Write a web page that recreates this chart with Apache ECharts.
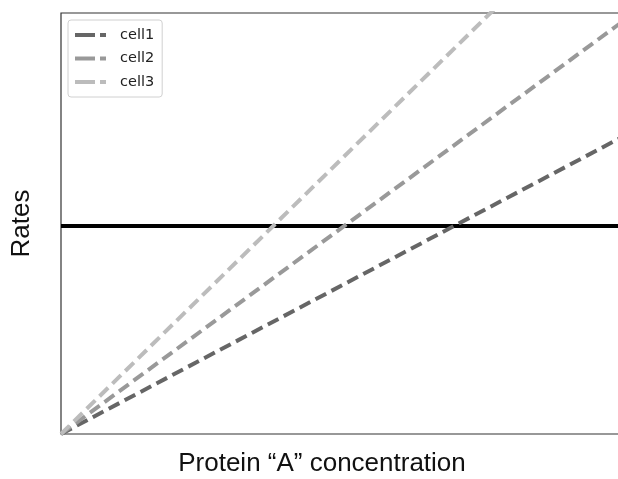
<!DOCTYPE html>
<html><head><meta charset="utf-8">
<script src="https://cdn.jsdelivr.net/npm/echarts@6/dist/echarts.min.js"></script>
<style>html,body{margin:0;padding:0;background:#fff;overflow:hidden}#c{width:618px;height:479px}</style>
</head><body><div id="c"></div>
<script>
const xs = [0, 1];
const cell1 = [0, 0.704];
const cell2 = [0, 0.977];
const cell3 = [0, 1.304];
const threshold = [0.494, 0.494];
const names = ['cell1', 'cell2', 'cell3'];
const colors = ['#666666', '#999999', '#bcbcbc'];

const pts = a => xs.map((x, i) => [x, a[i]]);
const chart = echarts.init(document.getElementById('c'), null, {renderer: 'canvas'});
const dashIcon = 'path://M0,0H20V4H0Z M25,0H31V4H25Z';
const dashed = (name, arr, color, z) => ({
  name, type: 'line', data: pts(arr), showSymbol: false, symbol: 'none', clip: true, z,
  lineStyle: {color, width: 4, type: [12, 6]}, itemStyle: {color}
});
chart.setOption({
  animation: false,
  grid: {left: 61, top: 13, right: -3, bottom: 45, show: true, borderColor: '#333', borderWidth: 1.2,
    containLabel: false, outerBoundsMode: 'none'},
  legend: {
    show: true, left: 68, top: 20, orient: 'vertical', itemWidth: 31, itemHeight: 4, itemGap: 7.5,
    padding: [7, 8, 7, 7], borderColor: '#d0d0d0', borderWidth: 1, borderRadius: 3,
    textStyle: {fontSize: 14.5, lineHeight: 16, color: '#222', fontFamily: 'DejaVu Sans', padding: [0, 0, 0, 9]},
    data: names.map((n, i) => ({name: n, icon: dashIcon, itemStyle: {color: colors[i]}}))
  },
  xAxis: {type: 'value', min: 0, max: 1, axisLabel: {show: false}, axisTick: {show: false}, splitLine: {show: false},
    axisLine: {show: false},
    name: 'Protein “A” concentration', nameLocation: 'middle', nameGap: 17,
    nameTextStyle: {fontSize: 26, color: '#111', fontFamily: 'Liberation Sans', padding: [0, 38, 0, 0]}},
  yAxis: {type: 'value', min: 0, max: 1, axisLabel: {show: false}, axisTick: {show: false}, splitLine: {show: false},
    axisLine: {show: false},
    name: 'Rates', nameLocation: 'middle', nameGap: 26, nameRotate: 90,
    nameTextStyle: {fontSize: 26, color: '#111', fontFamily: 'Liberation Sans'}},
  series: [
    {name: 'threshold', type: 'line', data: pts(threshold), showSymbol: false, symbol: 'none', z: 1,
      lineStyle: {color: '#000', width: 4}, itemStyle: {color: '#000'}},
    dashed('cell1', cell1, colors[0], 3),
    dashed('cell2', cell2, colors[1], 3),
    dashed('cell3', cell3, colors[2], 3)
  ]
});
</script></body></html>
